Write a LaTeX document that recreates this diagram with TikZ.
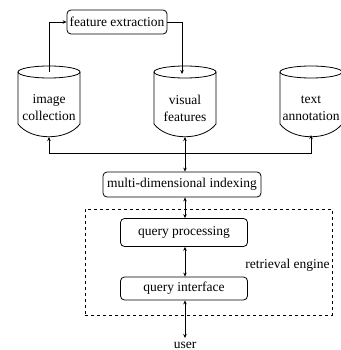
\documentclass[tikz,border=0pt]{standalone}
\usepackage{fontspec}
\setmainfont{Liberation Serif}
\usetikzlibrary{arrows.meta}
\begin{document}
\begin{tikzpicture}[x=1pt,y=-1pt,
  font=\fontsize{13.5}{17}\selectfont,
  line width=0.8pt,
  box/.style={draw, rounded corners=4pt, inner sep=2pt},
  arr/.style={-{Stealth[length=4pt,width=3.5pt]}},
  darr/.style={{Stealth[length=4pt,width=3.5pt]}-{Stealth[length=4pt,width=3.5pt]}},
  cyltext/.style={align=center, inner sep=0pt}]
\useasboundingbox (0,0) rectangle (340,350);

% cylinders
\foreach \cx in {49,185,311}{
  \draw (\cx-31,72) -- (\cx-31,124) .. controls (\cx-18,141) and (\cx+18,141) .. (\cx+31,124) -- (\cx+31,72);
  \draw (\cx,72) ellipse (31 and 6);
}
\node[cyltext] (ic) at (49,108) {image\\collection};
\node[cyltext] (vf) at (185,108) {visual\\features};
\node[cyltext] (ta) at (311,108) {text\\annotation};
\coordinate (ictop) at (49,72);
\coordinate (vftop) at (182,74);
\coordinate (icbot) at (49,137);
\coordinate (vfbot) at (185,137);
\coordinate (tabot) at (311,135);
\coordinate (j) at (185,153);

\node[box, minimum width=100pt, minimum height=24pt] (fe) at (117,22) {feature extraction};
\node[box, minimum width=158pt, minimum height=25pt] (mdi) at (182,184.5) {multi-dimensional indexing};
\node[draw, dashed, minimum width=247pt, minimum height=106pt, inner sep=0pt] (re) at (208.5,262) {};
\node[box, minimum width=127pt, minimum height=28pt] (qp) at (184,232.5) {query processing};
\node[box, minimum width=127pt, minimum height=23pt] (qi) at (184,288.5) {query interface};
\node[anchor=east, inner sep=1pt] (rel) at (331,265) {retrieval engine};
\node (user) at (185,345) {user};

\draw[arr] (ictop) |- (fe.west);
\draw[arr] (fe.east) -| (vftop);
\draw[arr] (j) -| (icbot);
\draw[arr] (j) -| (tabot);
\draw[darr] (mdi.north -| vfbot) -- (vfbot);
\draw[darr] (mdi.south -| vfbot) -- (qp.north -| vfbot);
\draw[darr] (qp.south -| vfbot) -- (qi.north -| vfbot);
\draw[darr] (qi.south -| vfbot) -- (user.north -| vfbot);
\end{tikzpicture}
\end{document}
